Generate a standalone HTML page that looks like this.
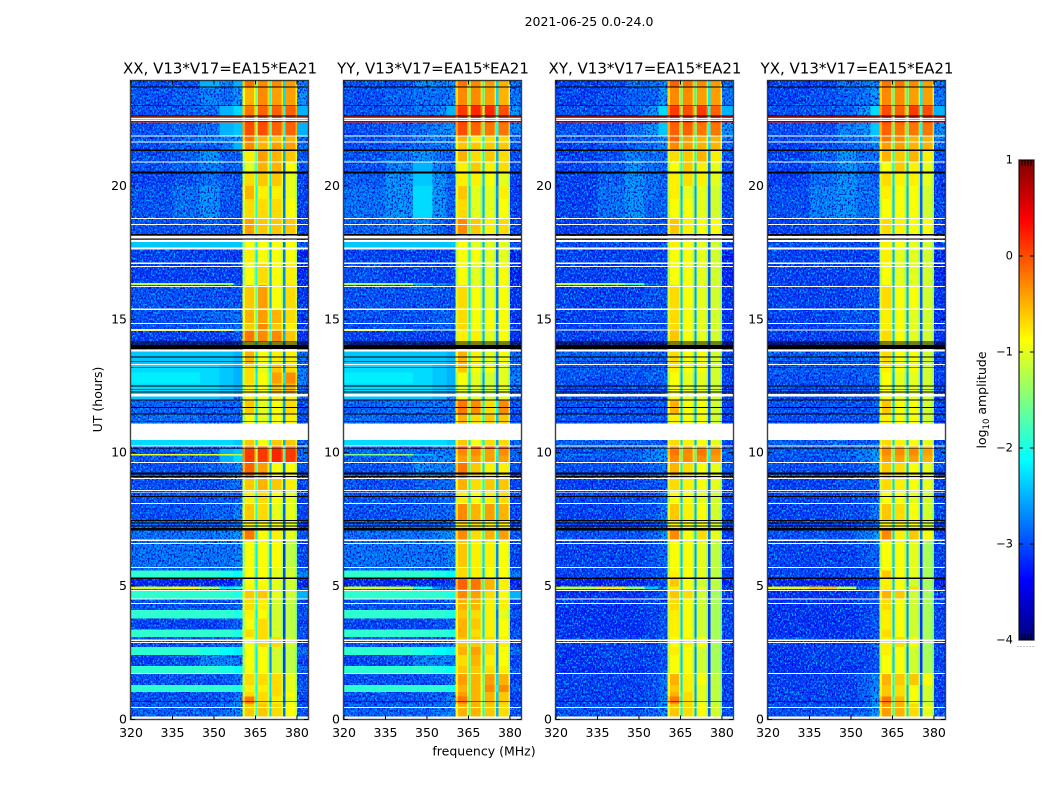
<!DOCTYPE html>
<html lang="en">
<head>
<meta charset="utf-8">
<title>2021-06-25 spectrogram</title>
<style>
html,body{margin:0;padding:0;background:#fff;}
svg{display:block;}
text{font-family:"DejaVu Sans","Liberation Sans",sans-serif;fill:#000;}
</style>
</head>
<body>
<svg id="chart" xmlns="http://www.w3.org/2000/svg" width="1050" height="800" viewBox="0 0 1050 800">
<defs>
<filter id="speckle" x="0" y="0" width="1" height="1" color-interpolation-filters="sRGB">
<feTurbulence type="fractalNoise" baseFrequency="0.62 0.48" numOctaves="2" seed="7" result="n"/>
<feColorMatrix in="n" type="matrix" values="0 0 0 0 0  0 0 0 0 0.72  0 0 0 0 1  5 0 0 0 -2.45" result="light"/>
<feColorMatrix in="n" type="matrix" values="0 0 0 0 0  0 0 0 0 0.05  0 0 0 0 0.8  0 5 0 0 -2.45" result="dark"/>
<feMerge result="m"><feMergeNode in="light"/><feMergeNode in="dark"/></feMerge>
<feComposite in="m" in2="SourceAlpha" operator="in"/>
</filter>
</defs>
<text x="589" y="26" text-anchor="middle" font-size="12.5">2021-06-25 0.0-24.0</text>
<text x="484" y="755.5" text-anchor="middle" font-size="12.5">frequency (MHz)</text>
<text x="0" y="0" transform="translate(102,399.5) rotate(-90)" text-anchor="middle" font-size="12.5">UT (hours)</text>
<text x="0" y="0" transform="translate(986,400) rotate(-90)" text-anchor="middle" font-size="12.5">log<tspan font-size="8.5" dy="3">10</tspan><tspan dy="-3"> amplitude</tspan></text>
</svg>
<script>
const panelTitles = ["XX, V13*V17=EA15*EA21","YY, V13*V17=EA15*EA21","XY, V13*V17=EA15*EA21","YX, V13*V17=EA15*EA21"];
const xTicks = [320,335,350,365,380];
const yTicks = [0,5,10,15,20];
const colorTicks = [1,0,-1,-2,-3,-4];
const colorTickLabels = ["1","0","\u22121","\u22122","\u22123","\u22124"];
// frequency bin edges, MHz
const freqEdges = [320,335,345,352,357,360.3,365,370,375,380,384];
const notchFreqs = [365,370,375];
// how far (tenths of a decade) each notch sits below its neighbouring band
const notchDepthXX = [13,16,19];
const notchDepthYY = [13,15,18];
const notchDepthXY = [15,16,18];
const notchDepthYX = [15,16,18];
// sub-band edge roll-off, tenths of a decade
const bandRimDepth = [4];
// time bin edges, hours UT
const timeEdges = [23.95,23.70,23.00,22.62,22.38,21.87,21.65,21.33,20.90,20.50,20.00,19.50,18.78,18.17,17.63,17.10,16.36,16.28,15.40,14.85,14.64,14.56,14.15,13.85,13.30,13.00,12.60,12.15,11.97,11.44,11.09,10.48,10.25,10.14,9.96,9.90,9.63,9.04,8.58,8.10,7.45,7.10,6.72,5.70,5.58,5.33,4.98,4.90,4.84,4.52,4.10,3.79,3.38,3.10,2.72,2.41,2.00,1.74,1.29,1.04,0.86,0.60,0];
// flagged intervals [start,end] in hours
const whiteBands = [[22.55,22.51],[22.48,22.44],[21.89,21.85],[21.67,21.63],[20.92,20.88],[18.80,18.76],[18.57,18.53],[18.12,18.03],[17.98,17.90],[17.70,17.62],[17.12,17.08],[17.00,16.96],[16.25,16.21],[15.41,15.34],[14.87,14.83],[14.62,14.58],[13.87,13.80],[13.32,13.28],[12.20,12.10],[11.09,10.48],[10.27,10.23],[9.65,9.61],[9.06,9.02],[8.60,8.56],[8.53,8.50],[8.12,8.08],[6.75,6.69],[6.62,6.58],[5.72,5.68],[4.86,4.82],[4.54,4.50],[4.37,4.33],[2.99,2.95],[2.91,2.87],[1.75,1.71],[0.47,0.43],[0.11,0]];
const blackBands = [[23.72,23.69],[23.02,22.99],[22.64,22.60],[22.42,22.39],[21.36,21.30],[20.53,20.47],[18.20,18.14],[18.02,17.99],[14.16,14.13],[14.09,14.06],[14.03,13.88],[13.60,13.57],[13.42,13.39],[13.22,13.19],[12.52,12.49],[12.39,12.36],[12.29,12.26],[11.99,11.96],[11.71,11.68],[11.46,11.43],[11.19,11.16],[10.16,10.13],[9.25,9.18],[9.12,9.09],[8.37,8.34],[7.47,7.44],[7.41,7.38],[7.35,7.32],[7.27,7.24],[7.18,7.09],[5.32,5.26],[0.68,0.65]];
// log10 amplitude in tenths. one row per time bin, columns follow freqEdges
const levelsXX = [
[-30,-30,-25,-27,-25,-2,-3,-3,-4,-27],[-30,-29,-27,-28,-26,-5,-3,-4,-4,-26],[-30,-29,-28,-25,-23,-2,-1,-1,-1,-25],[1,1,1,1,1,1,1,1,1,1],
[-30,-29,-28,-25,-24,0,0,-1,-1,-25],[-30,-29,-27,-27,-26,-2,-5,-6,-5,-28],[-30,-29,-29,-28,-25,-3,-5,-4,-4,-29],[-30,-29,-26,-29,-29,-8,-4,-5,-6,-30],
[-30,-29,-27,-29,-29,-10,-5,-5,-9,-30],[-31,-30,-28,-29,-30,-7,-6,-6,-10,-31],[-30,-28,-26,-29,-30,-5,-8,-8,-10,-31],[-30,-28,-26,-30,-30,-7,-7,-7,-9,-31],
[-30,-30,-29,-30,-30,-4,-6,-6,-6,-31],[-24,-24,-24,-24,-24,-9,-9,-9,-9,-30],[-31,-31,-31,-31,-31,-8,-9,-9,-9,-33],[-31,-31,-31,-31,-31,-9,-7,-9,-8,-33],
[-12,-12,-13,-14,-28,-9,-8,-9,-8,-33],[-30,-30,-30,-30,-30,-6,-4,-9,-7,-32],[-30,-30,-29,-29,-28,-5,-4,-5,-7,-32],[-30,-30,-29,-29,-28,-6,-3,-6,-8,-32],
[-8,-8,-8,-8,-24,-5,-5,-6,-8,-28],[-31,-31,-31,-31,-30,-2,-3,-3,-6,-32],[-32,-32,-32,-32,-32,-9,-9,-9,-9,-33],[-24,-24,-24,-24,-25,-5,-9,-8,-8,-28],
[-23,-23,-23,-24,-25,-7,-10,-6,-7,-28],[-22,-22,-23,-24,-25,-7,-9,-4,-3,-27],[-23,-23,-23,-24,-25,-8,-9,-6,-5,-28],[-24,-24,-24,-25,-26,-8,-9,-8,-8,-28],
[-29,-29,-29,-29,-28,-6,-10,-9,-7,-30],[-28,-28,-29,-29,-29,-9,-10,-9,-8,-30],[-30,-30,-30,-30,-30,-9,-10,-9,-9,-30],[-23,-23,-23,-23,-24,-6,-9,-6,-6,-29],
[-30,-30,-30,-28,-28,-1,-1,0,-1,-30],[-30,-29,-29,-25,-24,1,1,2,1,-29],[-10,-10,-10,-10,-13,1,1,2,1,-28],[-30,-29,-29,-25,-23,1,1,2,1,-29],
[-30,-30,-29,-28,-27,-1,-4,-9,-9,-30],[-30,-30,-30,-29,-28,-6,-5,-6,-8,-31],[-30,-30,-30,-29,-29,-8,-7,-9,-10,-31],[-30,-30,-29,-29,-27,-6,-7,-10,-10,-31],
[-29,-29,-29,-29,-28,-8,-9,-9,-10,-31],[-28,-28,-28,-27,-26,-2,-9,-8,-10,-30],[-28,-28,-28,-28,-27,-9,-9,-9,-12,-31],[-29,-29,-29,-29,-29,-9,-9,-10,-11,-30],
[-19,-19,-19,-20,-21,-9,-9,-10,-11,-27],[-33,-33,-33,-33,-31,-9,-9,-10,-11,-33],[-11,-9,-13,-22,-20,-8,-8,-10,-11,-31],[-29,-29,-29,-29,-29,-9,-9,-10,-11,-31],
[-19,-19,-19,-19,-20,-6,-6,-10,-11,-25],[-30,-30,-30,-30,-29,-7,-8,-11,-12,-31],[-19,-19,-19,-19,-20,-8,-9,-11,-12,-30],[-31,-31,-31,-30,-29,-9,-7,-11,-12,-31],
[-19,-19,-19,-19,-20,-7,-7,-11,-12,-30],[-30,-30,-30,-29,-28,-9,-7,-7,-11,-31],[-19,-19,-20,-21,-22,-9,-9,-11,-12,-28],[-31,-30,-27,-27,-28,-9,-9,-11,-12,-31],
[-19,-19,-19,-20,-21,-9,-9,-11,-12,-29],[-30,-30,-30,-30,-28,-7,-7,-7,-10,-31],[-19,-19,-19,-19,-20,-8,-8,-7,-10,-29],[-30,-30,-30,-30,-28,-7,-7,-7,-9,-31],
[-30,-30,-30,-29,-27,-2,-7,-8,-10,-31],[-29,-29,-29,-28,-27,-6,-6,-7,-9,-30]
];
const levelsYY = [
[-30,-30,-26,-27,-26,-2,-3,-4,-5,-28],[-30,-29,-28,-28,-27,-3,-3,-4,-5,-28],[-30,-29,-28,-27,-25,1,2,2,0,-26],[2,2,2,2,2,2,2,2,2,2],
[-30,-29,-28,-27,-26,0,-1,-2,-2,-27],[-30,-29,-27,-27,-27,-5,-8,-7,-7,-29],[-30,-29,-28,-28,-27,-6,-6,-6,-6,-29],[-30,-28,-26,-28,-29,-5,-7,-6,-7,-30],
[-30,-27,-25,-27,-29,-8,-6,-8,-7,-30],[-29,-26,-24,-26,-29,-8,-8,-9,-10,-31],[-28,-26,-23,-26,-29,-6,-10,-10,-8,-31],[-28,-26,-23,-26,-29,-7,-10,-10,-9,-31],
[-29,-28,-26,-29,-30,-3,-6,-8,-7,-31],[-24,-24,-24,-24,-24,-9,-10,-10,-10,-30],[-31,-31,-31,-31,-31,-9,-9,-10,-10,-33],[-30,-31,-31,-31,-31,-9,-10,-10,-9,-33],
[-13,-14,-24,-26,-28,-9,-10,-10,-9,-33],[-30,-30,-30,-30,-30,-7,-9,-10,-9,-32],[-30,-30,-30,-29,-29,-7,-9,-9,-9,-32],[-30,-30,-30,-29,-29,-7,-9,-9,-9,-32],
[-9,-16,-28,-28,-28,-7,-9,-10,-9,-30],[-31,-31,-31,-31,-31,-8,-8,-10,-9,-32],[-32,-32,-32,-32,-32,-9,-9,-10,-10,-33],[-24,-24,-24,-24,-25,-5,-8,-10,-9,-28],
[-23,-23,-23,-24,-25,-6,-9,-9,-10,-28],[-22,-22,-23,-24,-25,-9,-10,-11,-10,-27],[-23,-23,-23,-24,-25,-10,-10,-11,-10,-28],[-24,-24,-24,-25,-26,-9,-10,-11,-10,-28],
[-29,-28,-28,-28,-28,-2,-3,-7,-3,-30],[-28,-29,-29,-29,-28,-5,-7,-6,-6,-30],[-30,-30,-30,-30,-30,-9,-9,-9,-9,-30],[-23,-23,-23,-23,-24,-6,-9,-7,-7,-29],
[-30,-30,-30,-28,-28,1,1,0,0,-30],[-29,-28,-29,-27,-27,-3,-3,-4,-3,-29],[-15,-14,-24,-26,-27,-3,-3,-4,-3,-29],[-29,-28,-27,-26,-27,-4,-4,-4,-4,-29],
[-30,-29,-26,-27,-27,-2,-6,-8,-8,-30],[-30,-30,-29,-29,-28,-5,-7,-6,-6,-31],[-30,-30,-30,-29,-29,-8,-9,-8,-7,-31],[-30,-30,-29,-29,-28,-3,-5,-4,-5,-31],
[-29,-29,-29,-29,-28,-7,-7,-8,-8,-31],[-28,-28,-28,-27,-26,-3,-7,-5,-4,-30],[-28,-28,-28,-28,-27,-6,-8,-8,-9,-31],[-29,-29,-29,-29,-29,-7,-8,-9,-9,-30],
[-19,-19,-19,-20,-21,-7,-8,-9,-9,-27],[-33,-33,-33,-33,-31,-1,-2,-5,-8,-33],[-11,-12,-20,-26,-26,-1,-2,-5,-8,-31],[-29,-29,-29,-29,-29,-3,-3,-6,-8,-31],
[-19,-19,-19,-19,-20,-3,-4,-7,-9,-25],[-30,-30,-30,-30,-29,-5,-5,-8,-8,-31],[-19,-19,-19,-19,-20,-6,-7,-8,-10,-30],[-31,-31,-31,-30,-29,-5,-6,-8,-9,-31],
[-19,-19,-19,-19,-20,-5,-7,-8,-9,-30],[-30,-30,-30,-29,-28,-6,-6,-7,-8,-31],[-19,-19,-20,-21,-22,-5,-4,-7,-9,-28],[-31,-30,-27,-27,-28,-7,-5,-8,-9,-31],
[-19,-19,-19,-20,-21,-6,-6,-7,-8,-29],[-30,-30,-30,-30,-28,-4,-5,-4,-5,-31],[-19,-19,-19,-19,-20,-5,-5,-3,-3,-29],[-30,-30,-30,-30,-28,-4,-5,-5,-6,-31],
[-30,-30,-30,-29,-27,-2,-5,-5,-6,-31],[-29,-29,-29,-28,-27,-5,-5,-6,-7,-30]
];
const levelsXY = [
[-31,-31,-28,-28,-27,-1,-2,-3,-4,-28],[-31,-30,-29,-29,-26,-3,-3,-4,-4,-28],[-30,-30,-29,-26,-23,1,0,1,-1,-25],[3,3,3,3,3,3,3,3,3,3],
[-30,-30,-28,-26,-24,-1,-1,-2,-2,-26],[-30,-30,-28,-28,-27,-1,-4,-5,-5,-28],[-31,-30,-29,-28,-27,-3,-4,-5,-5,-29],[-31,-30,-27,-28,-28,-7,-6,-5,-8,-30],
[-31,-29,-26,-28,-29,-9,-6,-8,-10,-31],[-31,-29,-26,-28,-29,-8,-7,-8,-10,-31],[-31,-28,-26,-28,-29,-8,-10,-10,-11,-31],[-31,-28,-26,-29,-29,-9,-9,-10,-11,-31],
[-31,-30,-29,-30,-30,-6,-8,-9,-9,-31],[-30,-30,-30,-30,-30,-8,-9,-10,-11,-31],[-31,-31,-31,-31,-31,-9,-9,-10,-11,-33],[-31,-31,-31,-31,-31,-9,-9,-10,-11,-33],
[-12,-13,-18,-28,-29,-9,-9,-10,-11,-33],[-31,-31,-31,-30,-30,-7,-9,-10,-11,-32],[-31,-31,-30,-30,-30,-7,-9,-10,-11,-32],[-31,-31,-30,-30,-30,-7,-9,-10,-11,-32],
[-31,-31,-30,-30,-30,-5,-9,-10,-11,-31],[-31,-31,-31,-31,-30,-6,-9,-10,-11,-32],[-33,-33,-33,-33,-33,-9,-9,-10,-11,-33],[-29,-29,-29,-29,-29,-7,-9,-9,-11,-31],
[-29,-29,-29,-29,-29,-8,-9,-9,-11,-31],[-30,-30,-30,-29,-29,-9,-10,-10,-11,-31],[-30,-30,-30,-30,-29,-9,-10,-10,-11,-31],[-30,-30,-30,-30,-30,-9,-10,-10,-11,-31],
[-30,-30,-30,-30,-29,-5,-9,-9,-11,-31],[-30,-30,-30,-30,-30,-8,-9,-9,-11,-31],[-30,-30,-30,-30,-30,-9,-9,-9,-11,-31],[-29,-29,-29,-29,-29,-7,-8,-9,-10,-31],
[-30,-30,-30,-29,-28,-3,-4,-4,-5,-30],[-30,-30,-29,-27,-26,-2,-3,-2,-3,-29],[-28,-28,-28,-27,-26,-2,-3,-2,-3,-29],[-30,-30,-29,-27,-26,-3,-3,-3,-4,-29],
[-30,-30,-30,-29,-28,-5,-7,-9,-10,-30],[-31,-31,-30,-30,-29,-7,-8,-9,-10,-31],[-31,-31,-31,-30,-29,-9,-9,-10,-11,-31],[-31,-31,-30,-30,-28,-6,-8,-9,-11,-31],
[-31,-31,-31,-30,-29,-8,-9,-9,-11,-31],[-30,-30,-30,-29,-26,-3,-9,-7,-10,-31],[-31,-31,-31,-30,-29,-9,-9,-10,-12,-31],[-31,-31,-31,-30,-30,-9,-9,-10,-12,-31],
[-31,-31,-31,-30,-30,-8,-9,-10,-12,-31],[-33,-33,-33,-32,-31,-6,-9,-11,-12,-33],[-12,-8,-14,-24,-26,-8,-9,-10,-12,-31],[-31,-31,-31,-31,-30,-8,-9,-10,-12,-31],
[-32,-32,-32,-31,-30,-6,-7,-11,-13,-31],[-32,-32,-32,-31,-30,-7,-9,-11,-13,-31],[-32,-32,-32,-31,-30,-8,-9,-11,-13,-31],[-32,-32,-32,-31,-30,-8,-9,-11,-13,-31],
[-32,-32,-32,-31,-30,-8,-9,-11,-13,-31],[-31,-31,-31,-31,-29,-9,-8,-9,-13,-31],[-32,-31,-31,-31,-30,-8,-9,-11,-13,-31],[-32,-31,-31,-31,-30,-9,-9,-11,-13,-31],
[-32,-32,-32,-31,-30,-9,-9,-11,-13,-31],[-31,-31,-31,-30,-28,-5,-8,-9,-12,-31],[-31,-31,-31,-30,-28,-6,-8,-10,-12,-31],[-31,-31,-31,-30,-28,-5,-7,-10,-12,-31],
[-31,-31,-31,-30,-27,-2,-7,-10,-12,-31],[-30,-30,-30,-29,-27,-6,-7,-9,-11,-30]
];
const levelsYX = [
[-31,-31,-28,-28,-27,-2,-2,-3,-4,-28],[-31,-30,-29,-28,-26,-3,-3,-4,-4,-28],[-30,-30,-29,-26,-23,0,-1,1,0,-25],[3,3,3,3,3,3,3,3,3,3],
[-30,-30,-27,-26,-24,-1,-2,-2,-2,-26],[-30,-30,-28,-27,-26,-2,-3,-5,-5,-28],[-31,-30,-29,-28,-27,-4,-4,-5,-5,-29],[-31,-29,-26,-28,-28,-5,-6,-5,-8,-30],
[-31,-29,-26,-28,-29,-9,-6,-8,-10,-31],[-31,-28,-26,-28,-29,-7,-8,-8,-10,-31],[-30,-27,-26,-28,-28,-8,-9,-9,-11,-31],[-30,-27,-26,-28,-28,-9,-9,-9,-11,-31],
[-31,-30,-29,-30,-30,-7,-8,-9,-9,-31],[-30,-30,-30,-30,-30,-8,-9,-10,-11,-31],[-31,-31,-31,-31,-31,-8,-10,-10,-11,-33],[-31,-31,-31,-31,-31,-9,-10,-10,-11,-33],
[-31,-31,-31,-31,-30,-9,-9,-10,-11,-33],[-31,-31,-31,-30,-30,-7,-9,-9,-11,-32],[-31,-31,-30,-30,-30,-8,-9,-10,-11,-32],[-31,-31,-30,-30,-30,-8,-9,-10,-11,-32],
[-31,-31,-30,-30,-30,-7,-9,-10,-11,-31],[-31,-31,-31,-31,-30,-7,-9,-10,-11,-32],[-33,-33,-33,-33,-33,-9,-9,-10,-11,-33],[-29,-29,-29,-29,-29,-7,-9,-9,-11,-31],
[-29,-29,-29,-29,-29,-8,-9,-9,-11,-31],[-30,-30,-30,-29,-29,-9,-10,-10,-11,-31],[-30,-30,-30,-30,-29,-9,-10,-10,-11,-31],[-30,-30,-30,-30,-30,-9,-10,-10,-11,-31],
[-30,-30,-30,-30,-29,-6,-9,-9,-11,-31],[-30,-30,-30,-30,-30,-8,-9,-9,-11,-31],[-30,-30,-30,-30,-30,-9,-9,-9,-11,-31],[-29,-29,-29,-29,-29,-7,-8,-9,-10,-31],
[-30,-30,-30,-29,-28,-3,-4,-4,-5,-30],[-30,-30,-29,-27,-26,-3,-3,-3,-4,-29],[-29,-28,-28,-27,-26,-3,-3,-3,-4,-29],[-30,-30,-29,-27,-26,-4,-4,-4,-5,-29],
[-30,-30,-30,-29,-28,-6,-7,-9,-10,-30],[-31,-31,-30,-30,-29,-7,-8,-9,-10,-31],[-31,-31,-31,-30,-29,-9,-9,-10,-11,-31],[-31,-31,-30,-30,-28,-6,-7,-9,-11,-31],
[-31,-31,-31,-30,-29,-8,-8,-9,-11,-31],[-30,-30,-30,-28,-26,-3,-8,-6,-9,-31],[-31,-31,-31,-30,-29,-9,-9,-10,-13,-31],[-31,-31,-31,-30,-30,-9,-9,-10,-13,-31],
[-31,-31,-31,-30,-30,-6,-9,-10,-13,-31],[-33,-33,-33,-32,-31,-8,-9,-11,-13,-33],[-10,-6,-12,-26,-26,-8,-9,-7,-13,-31],[-31,-31,-31,-31,-30,-8,-9,-10,-13,-31],
[-32,-32,-32,-31,-30,-5,-6,-11,-13,-31],[-32,-32,-32,-31,-30,-7,-9,-11,-13,-31],[-32,-32,-32,-31,-30,-8,-9,-11,-13,-31],[-32,-32,-32,-31,-30,-8,-9,-11,-13,-31],
[-32,-32,-32,-31,-30,-7,-9,-11,-13,-31],[-31,-31,-31,-31,-29,-8,-7,-9,-13,-31],[-32,-31,-31,-31,-30,-8,-9,-11,-13,-31],[-32,-31,-31,-31,-30,-9,-9,-11,-13,-31],
[-32,-32,-32,-31,-30,-9,-9,-11,-13,-31],[-31,-31,-31,-29,-27,-5,-6,-6,-9,-31],[-31,-31,-31,-29,-27,-6,-7,-9,-11,-31],[-31,-31,-31,-29,-27,-6,-7,-9,-11,-31],
[-31,-31,-31,-30,-26,-2,-5,-9,-11,-31],[-30,-30,-30,-29,-26,-4,-5,-7,-10,-30]
];

const allLevels = [levelsXX,levelsYY,levelsXY,levelsYX];
const allNotchDepths = [notchDepthXX,notchDepthYY,notchDepthXY,notchDepthYX];
const panelLefts = [131,344,556,768];
const panelW = 177, panelTop = 80.5, panelBottom = 719.5;
const freqMin = 320, freqMax = 384, hourMin = 0, hourMax = 23.95;
const NS = 'http://www.w3.org/2000/svg';
const svg = document.getElementById('chart');

function xScale(left,f){return left+(f-freqMin)*panelW/(freqMax-freqMin);}
function yScale(h){return panelBottom-(h-hourMin)*(panelBottom-panelTop)/(hourMax-hourMin);}
function jet(t){
  t=Math.max(0,Math.min(1,t));
  const c=(v)=>Math.round(255*Math.max(0,Math.min(1,v)));
  const r=1.5-Math.abs(4*t-3), g=1.5-Math.abs(4*t-2), b=1.5-Math.abs(4*t-1);
  return 'rgb('+c(r)+','+c(g)+','+c(b)+')';
}
function levelColor(v){return jet((v+4)/5);}
function mk(tag,attrs,parent){
  const e=document.createElementNS(NS,tag);
  for(const k in attrs)e.setAttribute(k,attrs[k]);
  (parent||svg).appendChild(e);
  return e;
}

panelLefts.forEach(function(left,p){
  const g=mk('g',{'shape-rendering':'crispEdges'});
  
  
  const rows=allLevels[p];
  const noise=mk('g',{filter:'url(#speckle)'});
  
  
  rows.forEach(function(row,r){
    const yTop=yScale(timeEdges[r]), yBot=yScale(timeEdges[r+1]);
    row.forEach(function(val,c){
      const x0=xScale(left,freqEdges[c]), x1=xScale(left,freqEdges[c+1]);
      const cell=mk('rect',{x:x0,y:yTop,width:x1-x0,height:yBot-yTop,fill:levelColor(val/10)},g);
      
      
      if((c<5||c===9)&&val<=-26){
        const sp=mk('rect',{x:x0,y:yTop,width:x1-x0,height:yBot-yTop,fill:'#000'},noise);
        
        
      }
      if(c>=5&&c<=8){
        const rimVal=val-bandRimDepth[0];
        const rimL=mk('rect',{x:x0,y:yTop,width:xScale(left,freqEdges[c]+0.9)-x0,height:yBot-yTop,fill:levelColor(rimVal/10)},g);
        
        
        const rimR=mk('rect',{x:xScale(left,freqEdges[c+1]-0.6),y:yTop,width:x1-xScale(left,freqEdges[c+1]-0.6),height:yBot-yTop,fill:levelColor(rimVal/10)},g);
        
        
      }
    });
    notchFreqs.forEach(function(f,n){
      const x0=xScale(left,f), x1=xScale(left,f+0.8);
      const val=row[6+n]-allNotchDepths[p][n];
      const cell=mk('rect',{x:x0,y:yTop,width:x1-x0,height:yBot-yTop,fill:levelColor(val/10)},g);
      
      
    });
  });
  g.appendChild(noise);
  whiteBands.forEach(function(b){
    const y0=yScale(b[0]), y1=yScale(b[1]);
    const m=mk('rect',{x:left,y:y0,width:panelW,height:y1-y0,fill:'#fff'},g);
    
    
  });
  blackBands.forEach(function(b){
    const y0=yScale(b[0]), y1=yScale(b[1]);
    const m=mk('rect',{x:left,y:y0,width:panelW,height:y1-y0,fill:'#000'},g);
    
    
  });
  const frame=mk('rect',{x:left-0.5,y:panelTop,width:panelW+1,height:panelBottom-panelTop,fill:'none',stroke:'#000','stroke-opacity':0.75,'stroke-width':1.4});
  
  
  const title=mk('text',{x:left+panelW/2+0.5,y:73.5,'text-anchor':'middle','font-size':15});
  title.textContent=panelTitles[p];
  
  
  xTicks.forEach(function(t){
    const x=xScale(left,t);
    const a=mk('line',{x1:x,x2:x,y1:panelBottom,y2:panelBottom-4,stroke:'#000','stroke-width':1});
    
    
    const b=mk('line',{x1:x,x2:x,y1:panelTop,y2:panelTop+4,stroke:'#000','stroke-width':1});
    
    
    const l=mk('text',{x:x,y:737,'text-anchor':'middle','font-size':12.5});
    l.textContent=String(t);
    
    
  });
  yTicks.forEach(function(t){
    const y=yScale(t);
    const a=mk('line',{x1:left,x2:left+4,y1:y,y2:y,stroke:'#000','stroke-width':1});
    
    
    const b=mk('line',{x1:left+panelW,x2:left+panelW-4,y1:y,y2:y,stroke:'#000','stroke-width':1});
    
    
    const l=mk('text',{x:left-4,y:y+4,'text-anchor':'end','font-size':12.5});
    l.textContent=String(t);
    
    
  });
});

// colorbar
const barX=1019, barW=15, barTop=160, barBottom=640;
function barY(v){return barBottom-(v+4)*(barBottom-barTop)/5;}
const bar=mk('g',{'shape-rendering':'crispEdges'});


for(let y=barTop;y<barBottom;y+=2){
  const v=-4+(barBottom-y-1)*5/(barBottom-barTop);
  const s=mk('rect',{x:barX,y:y,width:barW,height:2,fill:levelColor(v)},bar);
  
  
}
const barFrame=mk('rect',{x:barX,y:barTop,width:barW,height:barBottom-barTop,fill:'none',stroke:'#000','stroke-opacity':0.75,'stroke-width':1.4});


colorTicks.forEach(function(t,i){
  const y=barY(t);
  if(t!==1&&t!==-4){
    const a=mk('line',{x1:barX,x2:barX+4,y1:y,y2:y,stroke:'#000','stroke-width':1});
    
    
    const b=mk('line',{x1:barX+barW,x2:barX+barW-4,y1:y,y2:y,stroke:'#000','stroke-width':1});
    
    
  }
  const l=mk('text',{x:1013,y:y+3.5,'text-anchor':'end','font-size':11.5});
  l.textContent=colorTickLabels[i];
  
  
});
[3,6,9,12].forEach(function(dx){
  const a=mk('line',{x1:barX+dx,x2:barX+dx,y1:barTop,y2:barTop+6,stroke:'#000','stroke-width':1});
  
  
  const b=mk('line',{x1:barX+dx,x2:barX+dx,y1:barBottom,y2:barBottom-6,stroke:'#000','stroke-width':1});
  
  
});
const dots=mk('line',{x1:1017.5,x2:1035,y1:646.5,y2:646.5,stroke:'#888','stroke-width':1,'stroke-dasharray':'1 2'});


</script>
</body>
</html>
